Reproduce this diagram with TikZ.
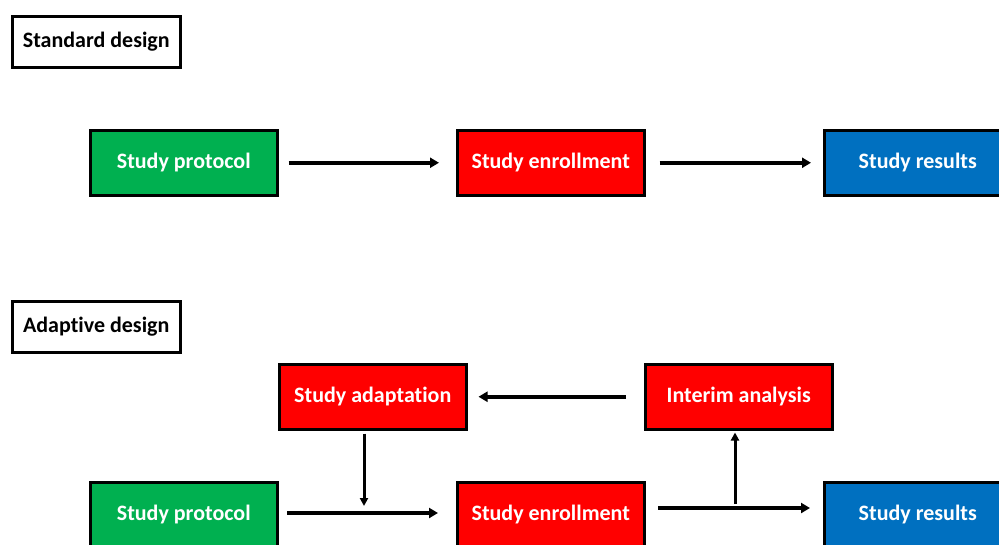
\documentclass[tikz,border=0pt]{standalone}
\usepackage{fontspec}
\setmainfont{Carlito}[RawFeature=-liga]
\usetikzlibrary{arrows.meta}
\definecolor{pgreen}{HTML}{00B050}
\definecolor{pred}{HTML}{FF0000}
\definecolor{pblue}{HTML}{0070C0}
\tikzset{
  box/.style={draw=black, line width=2.5pt, minimum width=187pt, minimum height=65pt, inner sep=0pt,
    font=\fontsize{22}{26}\selectfont\bfseries, text=white, anchor=north west},
  label/.style={draw=black, line width=2.5pt, minimum width=168pt, minimum height=51pt, inner sep=0pt,
    font=\fontsize{22}{26}\selectfont\bfseries, text=black, fill=white, anchor=north west},
  harrow/.style={line width=4pt, -{Triangle[length=9pt,width=10pt]}},
  varrow/.style={line width=3pt, -{Triangle[length=8pt,width=8pt]}}
}
\begin{document}
\begin{tikzpicture}[x=1pt,y=-1pt]
\useasboundingbox (0,0) rectangle (999,544);
\clip (0,0) rectangle (999,544);
% standard design
\node[label] (std) at (11,15) {Standard design};
\node[box, fill=pgreen] (p1) at (89,129) {Study protocol};
\node[box, fill=pred] (e1) at (456,129) {Study enrollment};
\node[box, fill=pblue] (r1) at (823,129) {Study results};
\draw[harrow, shorten <=10pt, shorten >=17pt] (p1.east) -- (e1.west);
\draw[harrow, shorten <=14pt, shorten >=12pt] (e1.east) -- (r1.west);
% adaptive design
\node[label] (adp) at (11,300) {Adaptive design};
\node[box, fill=pred] (sa) at (278,363) {Study adaptation};
\node[box, fill=pred] (ia) at (644,363) {Interim analysis};
\node[box, fill=pgreen] (p2) at (89,481) {Study protocol};
\node[box, fill=pred] (e2) at (456,481) {Study enrollment};
\node[box, fill=pblue] (r2) at (823,481) {Study results};
\draw[harrow, shorten <=18pt, shorten >=11pt] (ia.west) -- (sa.east);
\coordinate (a1s) at (287,513);
\coordinate (a1e) at (438,513);
\draw[harrow] (a1s) -- (a1e);
\coordinate (a2s) at (658,508);
\coordinate (a2e) at (810,508);
\draw[harrow] (a2s) -- (a2e);
\coordinate (vd) at (364,506);
\draw[varrow, shorten <=3pt] (sa.south -| vd) -- (vd);
\coordinate (vu) at (735,504);
\draw[varrow, shorten >=2pt] (vu) -- (vu |- ia.south);
\end{tikzpicture}
\end{document}
